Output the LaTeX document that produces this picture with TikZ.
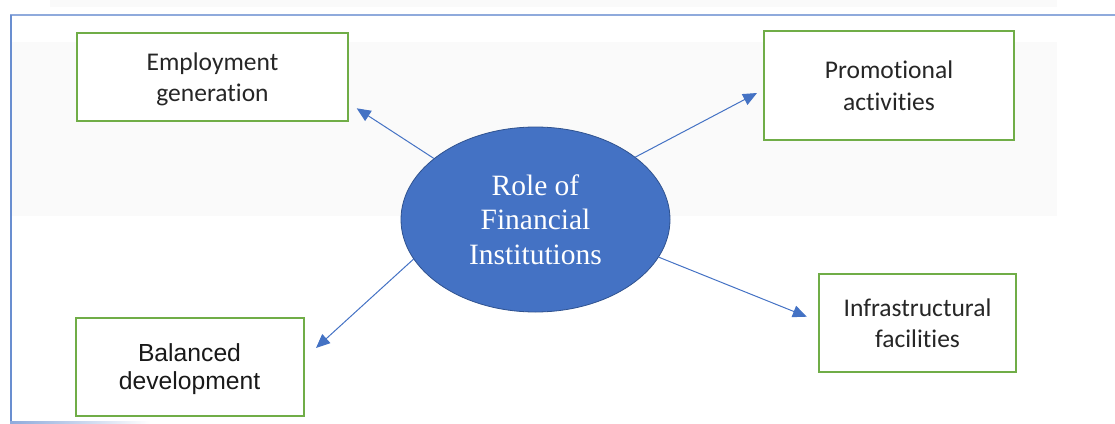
\documentclass[tikz,border=0pt]{standalone}
\usepackage{fontspec}
\setmainfont{Liberation Serif}
\newfontfamily\calibrifont[Ligatures=NoCommon]{Carlito}
\newfontfamily\arialfont{Liberation Sans}
\usetikzlibrary{shapes.geometric, arrows.meta, positioning}

\definecolor{roleblue}{HTML}{4472C4}
\definecolor{roleedge}{HTML}{2F528F}
\definecolor{boxgreen}{HTML}{70AD47}
\definecolor{framelight}{HTML}{8FAADC}
\definecolor{textgrey}{HTML}{262626}

\tikzset{
    rolebox/.style={draw=boxgreen, line width=2pt, fill=white, inner sep=0pt,
        align=center, text=textgrey, font=\calibrifont\fontsize{25.5}{31.5}\selectfont},
    linkarrow/.style={draw=roleblue, line width=1pt,
        -{Triangle[length=14pt, width=12pt]}},
}

\begin{document}
\begin{tikzpicture}[x=1pt, y=-1pt]
    \useasboundingbox (0,0) rectangle (1115,423);

    % Fonds gris très clairs
    \fill[black!2] (50,0) rectangle (1057,7);
    \fill[black!2] (10,42) rectangle (1057,216);

    % Cadre
    \draw[framelight, line width=2pt] (10,15) -- (1115,15);
    \draw[roleblue!80, line width=1.2pt] (11,15) -- (11,423);
    \shade[left color=roleblue!60, right color=white] (10,421) rectangle (150,423);

    % Ellipse centrale
    \node[ellipse, draw=roleedge, line width=0.8pt, fill=roleblue,
        minimum width=269pt, minimum height=185pt, inner sep=0pt,
        text=white, align=center, font=\fontsize{29.5}{34.5}\selectfont]
        (role) at (535.5,219.5) {Role of\\Financial\\Institutions};

    % Cases
    \node[rolebox, minimum width=271pt, minimum height=88pt, text depth=-1pt] (employ) at (212.5,77) {Employment\\generation};
    \node[rolebox, minimum width=250pt, minimum height=109pt] (promo) at (889,85.5) {Promotional\\activities};
    \node[rolebox, minimum width=228pt, minimum height=98pt, text=black!90, text depth=-3pt,
        font=\arialfont\fontsize{24.7}{28}\selectfont] (balanced) at (189.5,367) {Balanced\\development};
    \node[rolebox, minimum width=197pt, minimum height=98pt] (infra) at (917.5,323) {Infrastructural\\facilities};

    % Pointes des flèches
    \coordinate (employtip) at (356.7,108.3);
    \coordinate (promotip) at (757,93);
    \coordinate (balancedtip) at (316,348);
    \coordinate (infratip) at (806.8,316.7);

    % Flèches
    \draw[linkarrow] (role.149.3) -- (employtip);
    \draw[linkarrow] (role.32.6) -- (promotip);
    \draw[linkarrow] (role.198.2) -- (balancedtip);
    \draw[linkarrow] (role.343.4) -- (infratip);
\end{tikzpicture}
\end{document}
